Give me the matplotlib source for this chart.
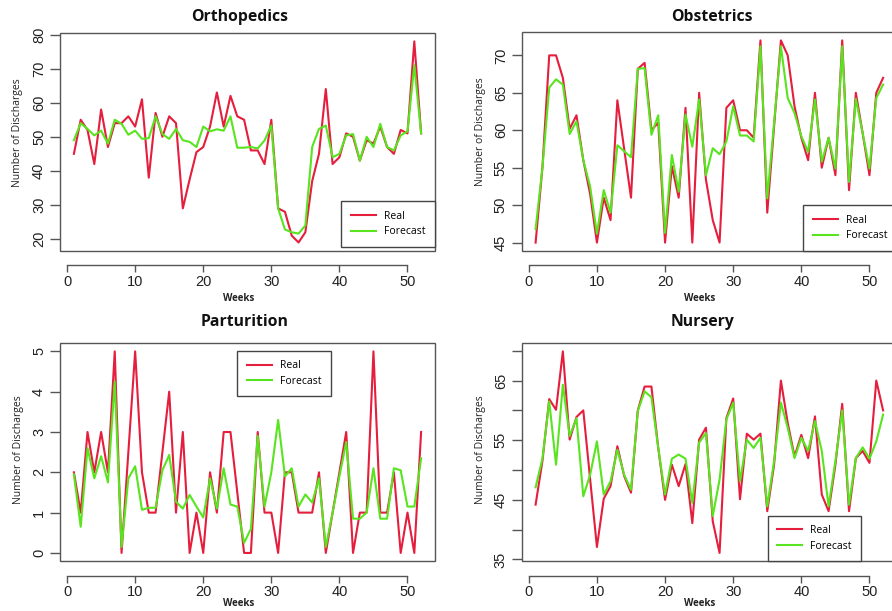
import numpy as np
import matplotlib
matplotlib.use("Agg")
import matplotlib.pyplot as plt
from matplotlib.patches import Rectangle

W, H = 892, 611

weeks = np.arange(1, 53)

ortho_real = [45, 55, 52, 42, 58, 47, 54, 54, 56, 53, 61, 38, 57, 50, 56, 54, 29, 37.5, 45.5, 47,
              53, 63, 53, 62, 56, 55, 46, 46, 42, 55, 29, 28, 21, 19, 22, 37, 45, 64, 42, 44,
              51, 50, 43, 49, 48, 53, 47, 45, 52, 51, 78, 51]
ortho_fc = [49, 54, 52.3, 50.4, 51.8, 48, 55, 53.8, 50.6, 51.8, 49.4, 49.6, 56, 50.8, 49.4, 52.3, 49, 48.5, 47, 53,
            51.6, 52.2, 51.8, 56, 46.8, 46.8, 47, 46.6, 48.9, 53.3, 29, 22.8, 22, 21.6, 24, 47, 52.3, 53.3, 44, 45,
            50.4, 50.8, 43, 50, 47, 53.8, 47, 46, 50.4, 51.6, 71, 51]

obst_real = [45, 55, 70, 70, 67, 60.2, 62, 56, 51.5, 45, 51, 48, 64, 57.5, 51, 68.2, 69, 60, 61, 45,
             55.2, 51, 63, 45, 65, 53.4, 48, 45, 63, 64, 60, 60, 59, 72, 49, 60.5, 72, 70, 63.2, 59,
             56, 65, 55, 59, 54, 72, 52, 65, 59.6, 54, 65, 67]
obst_fc = [46.8, 55, 65.7, 66.8, 66.1, 59.5, 61.2, 56, 52.5, 46.2, 52, 49, 58, 57.2, 56.4, 68.2, 68.3, 59.4, 62, 46.3,
           56.7, 51.8, 62.1, 57.8, 64.1, 54, 57.6, 56.8, 58.5, 63.2, 59.3, 59.3, 58.5, 71.2, 50.9, 61, 71.2, 64.3, 62.3, 59.2,
           57.1, 64.1, 55.8, 59, 54.9, 71.2, 53.1, 64.2, 59.6, 54.9, 64.3, 66.1]

part_real = [2, 1, 3, 2, 3, 2, 5, 0, 2.5, 5, 2, 1, 1, 2.5, 4, 1, 3, 0, 1, 0,
             2, 1, 3, 3, 1.5, 0, 0, 3, 1, 1, 0, 2, 2, 1, 1, 1, 2, 0, 1, 2,
             3, 0, 1, 1, 5, 1, 1, 2, 0, 1, 0, 3]
part_fc = [1.95, 0.65, 2.6, 1.85, 2.4, 1.75, 4.25, 0.15, 1.85, 2.15, 1.07, 1.12, 1.12, 2.05, 2.43, 1.27, 1.1, 1.44, 1.15, 0.88,
           1.85, 1.1, 2.1, 1.2, 1.15, 0.25, 0.6, 2.9, 1.15, 2.0, 3.3, 1.9, 2.1, 1.15, 1.45, 1.25, 1.85, 0.15, 1.0, 1.9,
           2.75, 0.85, 0.85, 1.0, 2.1, 0.85, 0.85, 2.1, 2.05, 1.15, 1.15, 2.35]

nurs_real = [44.2, 51.5, 61.9, 60.1, 69.9, 55.1, 58.9, 60, 48.5, 37.1, 45.2, 47.3, 54, 49, 46.2, 60, 64, 64, 53.7, 45,
             50.9, 47.3, 51, 41.1, 55.1, 57.1, 41.4, 36.1, 58.7, 62, 45.1, 56.1, 55.1, 56.1, 43.1, 50.9, 65, 57.9, 52.3, 55.9,
             52, 59, 45.9, 43.1, 50.9, 61.1, 43.1, 52, 53.2, 51.2, 65, 60]
nurs_fc = [47.1, 51.9, 61.5, 50.9, 64.3, 55.7, 58.7, 45.6, 49.2, 54.8, 45.9, 48.1, 53.4, 49.2, 46.7, 59.9, 63.2, 62.2, 53.7, 45.9,
           51.9, 52.6, 51.9, 44.5, 54.6, 56.2, 42.3, 48.4, 58.5, 61.3, 48.1, 55.1, 53.7, 55.4, 43.9, 51.5, 61.3, 57.1, 52, 55.4,
           53.2, 58.2, 53.2, 43.9, 51.5, 60, 44.2, 52, 53.8, 51.9, 54.8, 59.3]

titles = ["Orthopedics", "Obstetrics", "Parturition", "Nursery"]
xticks = [0, 10, 20, 30, 40, 50]
ortho_yticks = [20, 30, 40, 50, 60, 70, 80]
obst_yticks = [45, 50, 55, 60, 65, 70]
part_yticks = [0, 1, 2, 3, 4, 5]
nurs_yticks = [35, 40, 45, 50, 55, 60, 65, 70]
nurs_ylabels = ["35", "", "45", "", "55", "", "65", ""]

RED = "#E41E3C"
GREEN = "#58E41E"
GREY = "#555555"
TICKFONT = "Liberation Sans"
TEXTFONT = "Open Sans"

fig = plt.figure(figsize=(W / 100, H / 100), dpi=100)


def px(x0, y0, x1, y1):
    return [x0 / W, 1 - y1 / H, (x1 - x0) / W, (y1 - y0) / H]


panels = [
    dict(rect=px(60, 33.3, 435, 250.5), real=ortho_real, fc=ortho_fc, yt=ortho_yticks, yl=None,
         title=(240, 17), ylab=(17.3, 133), xlab=(239, 298),
         leg=dict(loc="lower right", bbox_to_anchor=(1.0, 0.018))),
    dict(rect=px(521.7, 32.3, 897, 250.7), real=obst_real, fc=obst_fc, yt=obst_yticks, yl=None,
         title=(712, 16.7), ylab=(480.7, 132), xlab=(700, 298),
         leg=dict(loc="lower right", bbox_to_anchor=(1.0, 0.0))),
    dict(rect=px(60, 343.3, 435, 561), real=part_real, fc=part_fc, yt=part_yticks, yl=None,
         title=(245, 321.7), ylab=(18.3, 450), xlab=(239, 604),
         leg=dict(loc="upper left", bbox_to_anchor=(0.473, 0.965))),
    dict(rect=px(521.7, 343.3, 897, 561), real=nurs_real, fc=nurs_fc, yt=nurs_yticks, yl=nurs_ylabels,
         title=(703, 322.3), ylab=(480.7, 450), xlab=(700, 604),
         leg=dict(loc="lower left", bbox_to_anchor=(0.6555, 0.0))),
]

for p, title in zip(panels, titles):
    ax = fig.add_axes(p["rect"])
    l1, = ax.plot(weeks, p["real"], color=RED, lw=1.5, label="Real")
    l2, = ax.plot(weeks, p["fc"], color=GREEN, lw=1.5, label="Forecast")

    xr = weeks.max() - weeks.min()
    ax.set_xlim(weeks.min() - 0.04 * xr, weeks.max() + 0.04 * xr)
    lo = min(min(p["real"]), min(p["fc"]))
    hi = max(max(p["real"]), max(p["fc"]))
    yr = hi - lo
    ax.set_ylim(lo - 0.04 * yr, hi + 0.04 * yr)

    for s in ["top", "right", "left"]:
        ax.spines[s].set_visible(False)
    ax.spines["bottom"].set_position(("outward", 10.5))
    ax.spines["bottom"].set_bounds(xticks[0], xticks[-1])
    ax.spines["bottom"].set_color(GREY)
    ax.spines["bottom"].set_linewidth(1.0)
    ax.add_patch(Rectangle((0, 0), 1, 1, transform=ax.transAxes, fill=False,
                           ec=GREY, lw=1.0, clip_on=False, zorder=5))

    ax.set_xticks(xticks)
    ax.set_xticklabels([str(t) for t in xticks], fontsize=10.5, family=TICKFONT, color="#222222")
    ax.set_yticks(p["yt"])
    labels = p["yl"] if p["yl"] is not None else [str(t) for t in p["yt"]]
    ax.set_yticklabels(labels, fontsize=10.5, family=TICKFONT, color="#222222",
                       rotation=90, va="center")
    ax.tick_params(axis="x", length=5, width=1, color=GREY, pad=2)
    ax.tick_params(axis="y", length=7, width=1, color=GREY, pad=3)

    leg = ax.legend(handles=[l1, l2], frameon=True, fancybox=False, edgecolor="#444444",
                    framealpha=1, prop=dict(family=TEXTFONT, size=7.5), handlelength=2.4,
                    handletextpad=0.8, borderpad=0.9, labelspacing=0.45, borderaxespad=0,
                    **p["leg"])
    leg.get_frame().set_linewidth(1.0)

    fig.text(p["title"][0] / W, 1 - p["title"][1] / H, title, ha="center", va="center",
             fontsize=11.3, fontweight="bold", family=TEXTFONT, color="#111111")
    fig.text(p["ylab"][0] / W, 1 - p["ylab"][1] / H, "Number of Discharges", rotation=90,
             ha="center", va="center", fontsize=7.5, family=TEXTFONT, color="#222222")
    fig.text(p["xlab"][0] / W, 1 - p["xlab"][1] / H, "Weeks", ha="center", va="center",
             fontsize=7, fontweight="bold", family=TEXTFONT, color="#222222")

fig.savefig("out.png", dpi=100)
